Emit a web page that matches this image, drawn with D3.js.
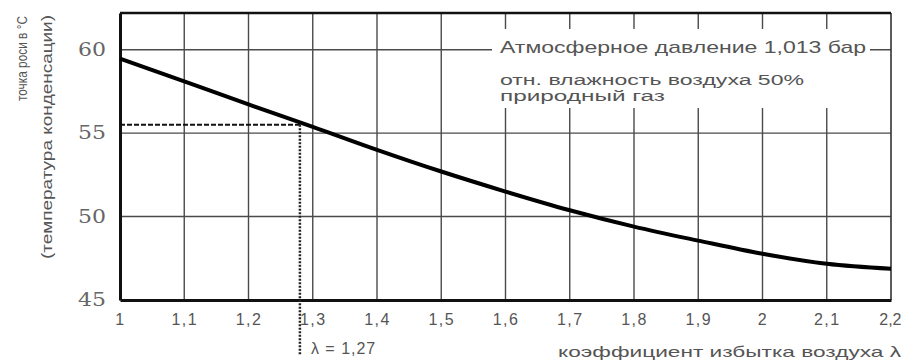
<!DOCTYPE html>
<html>
<head>
<meta charset="utf-8">
<script src="https://cdn.jsdelivr.net/npm/d3@7"></script>
<style>
  body { margin: 0; background: #fff; }
  svg { display: block; }
</style>
</head>
<body>
<svg id="chart" width="902" height="361"></svg>
<script>
// excess air ratio λ and dew point (°C)
const lambdaValues = [1.0, 1.1, 1.2, 1.3, 1.4, 1.5, 1.6, 1.7, 1.8, 1.9, 2.0, 2.1, 2.2];
const dewPoint = [59.46, 58.1, 56.72, 55.38, 54.0, 52.7, 51.5, 50.38, 49.4, 48.56, 47.77, 47.17, 46.87];
const xTickLabels = ["1", "1,1", "1,2", "1,3", "1,4", "1,5", "1,6", "1,7", "1,8", "1,9", "2", "2,1", "2,2"];
const yTicks = [45, 50, 55, 60];
const markLambda = 1.28;   // where the dotted guide sits
const markDew = 55.5;
const markLabel = "λ = 1,27";
const noteLines = ["Атмосферное давление 1,013 бар", "отн. влажность воздуха 50%", "природный газ"];
const yTitle = ["точка роси в °C", "(температура конденсации)"];
const xTitle = "коэффициент избытка воздуха λ";

const svg = d3.select("#chart");
const mLeft = 120, mRight = 891, mTop = 13, mBottom = 300;

let x = d3.scaleLinear().domain([1, 2.2]).range([mLeft, mRight]);
let y = d3.scaleLinear().domain([45, 62.2]).range([mBottom, mTop]);

// grid
let grid = svg.append("g").attr("stroke", "#4a4a4a").attr("stroke-width", 1.4);
grid.selectAll(".vg").data(lambdaValues.slice(1, -1)).join("line")
    .attr("x1", d => x(d)).attr("x2", d => x(d))
    .attr("y1", mTop).attr("y2", mBottom);
grid.selectAll(".hg").data(yTicks.slice(1)).join("line")
    .attr("x1", mLeft).attr("x2", mRight)
    .attr("y1", d => y(d)).attr("y2", d => y(d));

// note box covers the grid behind it
svg.append("rect").attr("x", 492).attr("y", 29).attr("width", 378).attr("height", 79).attr("fill", "#fff");
let note = svg.append("g").attr("fill", "#555").attr("font-family", "Liberation Sans, Arial, sans-serif");
note.append("text").attr("x", 500).attr("y", 53).attr("font-size", 17)
    .attr("textLength", 366).attr("lengthAdjust", "spacingAndGlyphs").text(noteLines[0]);
note.append("text").attr("x", 500).attr("y", 85).attr("font-size", 14)
    .attr("textLength", 304).attr("lengthAdjust", "spacingAndGlyphs").text(noteLines[1]);
note.append("text").attr("x", 500).attr("y", 101).attr("font-size", 14)
    .attr("textLength", 165).attr("lengthAdjust", "spacingAndGlyphs").text(noteLines[2]);

// frame
svg.append("line").attr("x1", mRight).attr("x2", mRight).attr("y1", mTop).attr("y2", mBottom)
    .attr("stroke", "#333").attr("stroke-width", 1.6);
svg.append("line").attr("x1", mLeft).attr("x2", mRight).attr("y1", mTop).attr("y2", mTop)
    .attr("stroke", "#111").attr("stroke-width", 2.5);

// axes
let xAxis = d3.axisBottom(x).tickValues(lambdaValues).tickFormat((d, i) => xTickLabels[i]).tickSize(0).tickPadding(14);
let xg = svg.append("g").attr("transform", `translate(0,${mBottom})`).call(xAxis);
xg.select(".domain").attr("stroke", "#111").attr("stroke-width", 3);
xg.selectAll("text").attr("font-family", "Liberation Sans, Arial, sans-serif")
    .attr("font-size", 16).attr("fill", "#555").attr("letter-spacing", 1.5);
// last label sits against the right edge
xg.selectAll(".tick").filter((d, i) => i == lambdaValues.length - 1).select("text")
    .attr("text-anchor", "end").attr("letter-spacing", 0).attr("dx", 10);

let yAxis = d3.axisLeft(y).tickValues(yTicks).tickSize(0).tickPadding(14);
let yg = svg.append("g").attr("transform", `translate(${mLeft},0)`).call(yAxis);
yg.select(".domain").attr("stroke", "#111").attr("stroke-width", 3);
yg.selectAll("text").style("font-family", "'DejaVu Serif', 'Liberation Serif', serif")
    .attr("font-size", 18).attr("fill", "#666")
    .attr("textLength", 28).attr("lengthAdjust", "spacingAndGlyphs");

// guide lines at λ = 1,27
svg.append("line")
    .attr("x1", mLeft).attr("x2", x(markLambda))
    .attr("y1", y(markDew)).attr("y2", y(markDew))
    .attr("stroke", "#111").attr("stroke-width", 2).attr("stroke-dasharray", "5,2");
svg.append("line")
    .attr("x1", x(markLambda)).attr("x2", x(markLambda))
    .attr("y1", y(markDew)).attr("y2", 355)
    .attr("stroke", "#222").attr("stroke-width", 2.5).attr("stroke-dasharray", "2,1.5");
svg.append("text").attr("x", x(markLambda) + 11).attr("y", 354)
    .attr("font-family", "Liberation Sans, Arial, sans-serif").attr("font-size", 16)
    .attr("fill", "#555").attr("letter-spacing", 1).text(markLabel);

// curve
const line = d3.line().x((d, i) => x(lambdaValues[i])).y(d => y(d)).curve(d3.curveCatmullRom);
svg.append("path").datum(dewPoint).attr("d", line)
    .attr("fill", "none").attr("stroke", "#000").attr("stroke-width", 4);

// titles
svg.append("text").attr("x", 901).attr("y", 357).attr("text-anchor", "end")
    .attr("font-family", "Liberation Sans, Arial, sans-serif").attr("font-size", 15).attr("fill", "#555")
    .attr("textLength", 343).attr("lengthAdjust", "spacingAndGlyphs").text(xTitle);

svg.append("text").attr("transform", "translate(27,16) rotate(-90)").attr("text-anchor", "end")
    .attr("font-family", "Liberation Sans, Arial, sans-serif").attr("font-size", 14).attr("fill", "#555")
    .attr("textLength", 85).attr("lengthAdjust", "spacingAndGlyphs").text(yTitle[0]);
svg.append("text").attr("transform", "translate(52,15) rotate(-90)").attr("text-anchor", "end")
    .attr("font-family", "Liberation Sans, Arial, sans-serif").attr("font-size", 14).attr("fill", "#555")
    .attr("textLength", 244).attr("lengthAdjust", "spacingAndGlyphs").text(yTitle[1]);
</script>
</body>
</html>
